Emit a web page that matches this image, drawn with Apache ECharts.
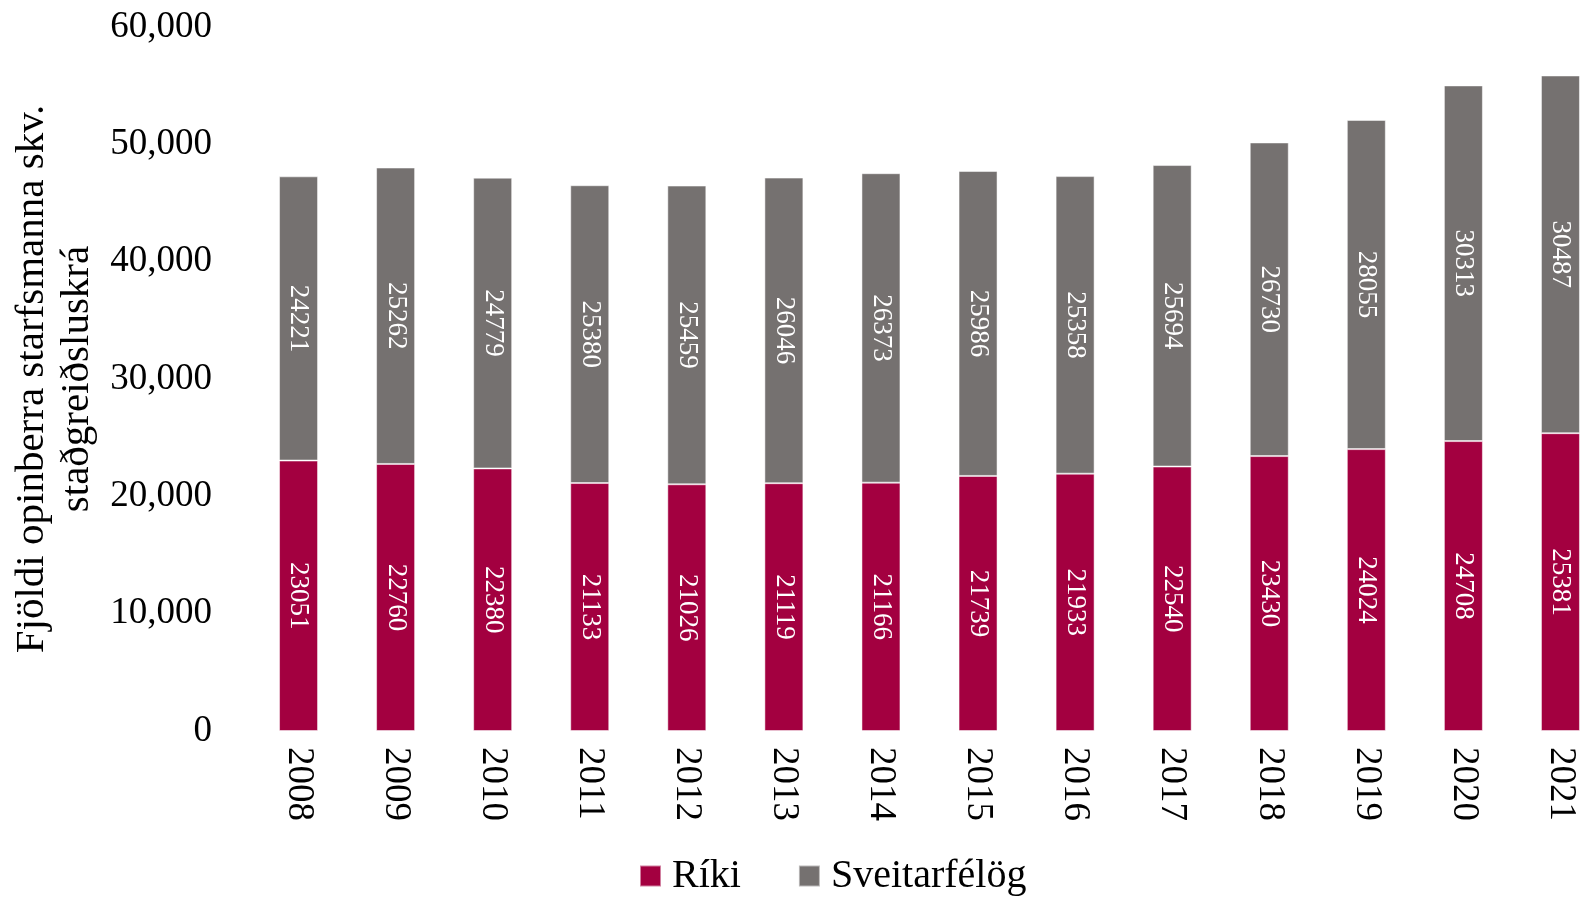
<!DOCTYPE html>
<html>
<head>
<meta charset="utf-8">
<script src="https://cdn.jsdelivr.net/npm/echarts@6/dist/echarts.min.js"></script>
<style>
html, body { margin: 0; padding: 0; background: #fff; }
#chart { width: 1582px; height: 898px; }
</style>
</head>
<body>
<div id="chart"></div>
<script>
// gögn
var years = ['2008', '2009', '2010', '2011', '2012', '2013', '2014', '2015', '2016', '2017', '2018', '2019', '2020', '2021'];
var riki = [23051, 22760, 22380, 21133, 21026, 21119, 21166, 21739, 21933, 22540, 23430, 24024, 24708, 25381];
var sveitarfelog = [24221, 25262, 24779, 25380, 25459, 26046, 26373, 25986, 25358, 25694, 26730, 28055, 30313, 30487];

var font = '"Liberation Serif", "DejaVu Serif", serif';
var myChart = echarts.init(document.getElementById('chart'));

var barLabel = {
    show: true,
    position: 'inside',
    rotate: -90,
    color: '#fff',
    fontFamily: font,
    fontSize: 27
};

myChart.setOption({
    animation: false,
    grid: {
        left: 250,
        top: 27,
        width: 1359,
        bottom: 167,
        outerBoundsMode: 'none',
        containLabel: false
    },
    legend: {
        data: ['Ríki', 'Sveitarfélög'],
        left: 634,
        top: 851,
        itemWidth: 21,
        itemHeight: 21,
        itemGap: 57,
        icon: 'rect',
        textStyle: { fontFamily: font, fontSize: 40, color: '#000', padding: [0, 0, 0, 6] }
    },
    xAxis: {
        type: 'category',
        data: years,
        axisLine: { show: false },
        axisTick: { show: false },
        axisLabel: {
            rotate: -90,
            margin: 16,
            color: '#000',
            fontFamily: font,
            fontSize: 37
        }
    },
    yAxis: {
        type: 'value',
        min: 0,
        max: 60000,
        interval: 10000,
        name: 'Fjöldi opinberra starfsmanna skv.\nstaðgreiðsluskrá',
        nameLocation: 'middle',
        nameGap: 150,
        nameRotate: 90,
        nameTextStyle: { fontFamily: font, fontSize: 41, color: '#000', lineHeight: 45 },
        splitLine: { show: false },
        axisLine: { show: false },
        axisTick: { show: false },
        axisLabel: {
            margin: 38,
            color: '#000',
            fontFamily: font,
            fontSize: 37,
            formatter: function (v) { return v.toLocaleString('en-US'); }
        }
    },
    series: [
        {
            name: 'Ríki',
            type: 'bar',
            stack: 'total',
            barWidth: 39,
            data: riki,
            itemStyle: { color: '#A30040', borderColor: 'rgba(255,255,255,0.5)', borderWidth: 1 },
            label: barLabel
        },
        {
            name: 'Sveitarfélög',
            type: 'bar',
            stack: 'total',
            barWidth: 39,
            data: sveitarfelog,
            itemStyle: { color: '#757170', borderColor: 'rgba(255,255,255,0.5)', borderWidth: 1 },
            label: barLabel
        }
    ]
});
</script>
</body>
</html>
